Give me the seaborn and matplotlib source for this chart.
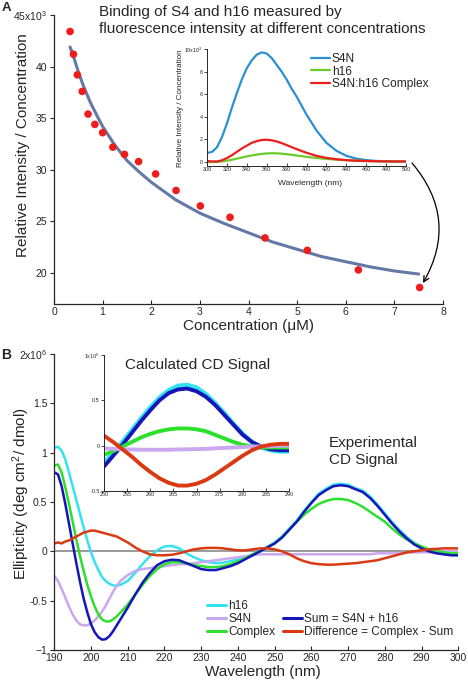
import matplotlib
matplotlib.use('Agg')
import matplotlib.pyplot as plt
import seaborn as sns
from matplotlib.lines import Line2D

# ---- panel A: binding titration (intensity / concentration vs concentration)
conc_um = [0.33, 0.40, 0.48, 0.58, 0.70, 0.84, 1.00, 1.21, 1.45, 1.74, 2.09,
           2.51, 3.01, 3.62, 4.34, 5.21, 6.26, 7.52]
ratio_k = [43.4, 41.2, 39.2, 37.6, 35.4, 34.4, 33.6, 32.2, 31.5, 30.8, 29.6,
           28.0, 26.5, 25.4, 23.4, 22.2, 20.3, 18.6]
fit_conc = [0.33, 0.4, 0.5, 0.6, 0.75, 0.9, 1.0, 1.25, 1.5, 1.75, 2.0, 2.5,
            3.0, 3.5, 4.0, 4.5, 5.0, 5.5, 6.0, 6.5, 7.0, 7.5]
fit_ratio = [41.9, 41.0, 39.5, 38.2, 36.5, 35.1, 34.2, 32.4, 30.9, 29.8, 28.8,
             27.1, 25.8, 24.8, 23.9, 23.0, 22.3, 21.6, 21.1, 20.6, 20.2, 19.9]

# ---- inset A: fluorescence spectra
spec_wl = [300, 305, 310, 315, 320, 325, 330, 335, 340, 345, 350, 355, 360,
           365, 370, 375, 380, 385, 390, 395, 400, 410, 420, 430, 440, 450,
           460, 470, 480, 490, 500]
spec_s4n = [0.8, 0.9, 1.3, 2.2, 3.4, 4.8, 6.1, 7.3, 8.3, 9.0, 9.5, 9.7, 9.6,
            9.2, 8.6, 8.0, 7.3, 6.5, 5.8, 5.0, 4.2, 2.8, 1.7, 1.0, 0.55, 0.3,
            0.17, 0.1, 0.07, 0.05, 0.05]
spec_h16 = [0.0, 0.0, 0.02, 0.06, 0.12, 0.2, 0.3, 0.4, 0.5, 0.58, 0.66, 0.72,
            0.76, 0.78, 0.77, 0.74, 0.69, 0.64, 0.58, 0.52, 0.46, 0.36, 0.28,
            0.21, 0.16, 0.12, 0.09, 0.07, 0.06, 0.05, 0.05]
spec_complex = [0.1, 0.05, 0.05, 0.15, 0.35, 0.6, 0.9, 1.2, 1.45, 1.7, 1.85,
                1.95, 1.97, 1.92, 1.82, 1.68, 1.5, 1.32, 1.15, 0.98, 0.82,
                0.55, 0.37, 0.25, 0.17, 0.12, 0.09, 0.07, 0.06, 0.05, 0.05]

# ---- panel B: experimental CD spectra (x10^6)
cd_wl = [190, 191, 192, 193, 194, 195, 196, 197, 198, 199, 200, 201, 202, 203,
         204, 205, 206, 207, 208, 210, 212, 214, 216, 218, 220, 222, 224, 226,
         228, 230, 232, 234, 236, 238, 240, 242, 244, 246, 248, 250, 252, 254,
         256, 258, 260, 262, 264, 266, 268, 270, 272, 274, 276, 278, 280, 282,
         284, 286, 288, 290, 292, 294, 296, 298, 300]
cd_h16 = [1.05, 1.06, 1.02, 0.93, 0.80, 0.66, 0.52, 0.38, 0.24, 0.11, -0.01,
          -0.11, -0.19, -0.26, -0.30, -0.33, -0.345, -0.35, -0.34, -0.30,
          -0.22, -0.13, -0.05, 0.01, 0.05, 0.055, 0.03, -0.02, -0.06, -0.09,
          -0.11, -0.12, -0.115, -0.10, -0.08, -0.06, -0.03, 0.0, 0.045, 0.09,
          0.15, 0.23, 0.31, 0.41, 0.50, 0.585, 0.635, 0.675, 0.685, 0.675,
          0.64, 0.615, 0.555, 0.475, 0.385, 0.295, 0.215, 0.145, 0.085, 0.04,
          0.01, -0.01, -0.025, -0.035, -0.04]
cd_s4n = [-0.25, -0.30, -0.38, -0.47, -0.56, -0.64, -0.70, -0.74, -0.75, -0.75,
          -0.73, -0.70, -0.66, -0.61, -0.55, -0.48, -0.41, -0.35, -0.30, -0.24,
          -0.20, -0.18, -0.17, -0.16, -0.15, -0.14, -0.13, -0.13, -0.12, -0.11,
          -0.10, -0.09, -0.08, -0.07, -0.06, -0.05, -0.04, -0.03, -0.03, -0.03,
          -0.03, -0.03, -0.03, -0.03, -0.03, -0.03, -0.03, -0.03, -0.03, -0.03,
          -0.03, -0.03, -0.03, -0.02, -0.02, -0.02, -0.02, -0.015, -0.01,
          -0.01, -0.01, -0.005, 0.0, 0.0, 0.0]
cd_complex = [0.87, 0.88, 0.80, 0.65, 0.48, 0.30, 0.12, -0.05, -0.20, -0.34,
              -0.46, -0.56, -0.64, -0.69, -0.71, -0.71, -0.69, -0.66, -0.62,
              -0.54, -0.44, -0.34, -0.25, -0.18, -0.13, -0.11, -0.11, -0.12,
              -0.14, -0.15, -0.16, -0.16, -0.15, -0.13, -0.10, -0.07, -0.03,
              0.0, 0.04, 0.08, 0.14, 0.22, 0.30, 0.37, 0.43, 0.48, 0.51, 0.53,
              0.53, 0.52, 0.49, 0.45, 0.40, 0.35, 0.30, 0.23, 0.17, 0.12, 0.08,
              0.05, 0.02, 0.0, -0.01, -0.02, -0.02]
cd_sum = [0.80, 0.78, 0.66, 0.48, 0.28, 0.08, -0.12, -0.31, -0.48, -0.62,
          -0.74, -0.82, -0.87, -0.895, -0.89, -0.86, -0.81, -0.75, -0.69,
          -0.57, -0.44, -0.32, -0.22, -0.14, -0.10, -0.085, -0.09, -0.12,
          -0.15, -0.18, -0.19, -0.19, -0.17, -0.15, -0.12, -0.08, -0.04, 0.0,
          0.04, 0.08, 0.14, 0.22, 0.30, 0.40, 0.49, 0.57, 0.62, 0.66, 0.67,
          0.66, 0.63, 0.60, 0.54, 0.46, 0.37, 0.28, 0.20, 0.13, 0.07, 0.03,
          0.0, -0.02, -0.03, -0.04, -0.04]
cd_diff = [0.08, 0.09, 0.08, 0.10, 0.11, 0.13, 0.15, 0.17, 0.19, 0.20, 0.21,
           0.21, 0.20, 0.19, 0.18, 0.17, 0.16, 0.15, 0.13, 0.09, 0.04, 0.0,
           -0.03, -0.04, -0.04, -0.035, -0.02, 0.0, 0.02, 0.03, 0.035, 0.035,
           0.03, 0.02, 0.01, 0.01, 0.02, 0.03, 0.03, 0.02, 0.0, -0.03, -0.07,
           -0.10, -0.12, -0.13, -0.135, -0.135, -0.13, -0.125, -0.12, -0.11,
           -0.10, -0.09, -0.07, -0.05, -0.03, -0.01, 0.0, 0.01, 0.02, 0.025,
           0.03, 0.03, 0.03]

# ---- inset B: calculated CD signal
calc_wl = [250, 252, 254, 256, 258, 260, 262, 264, 266, 268, 270, 272, 274,
           276, 278, 280, 282, 284, 286, 288, 290]
calc_h16 = [-0.19, -0.08, 0.04, 0.17, 0.30, 0.42, 0.53, 0.61, 0.66, 0.67, 0.64,
            0.57, 0.47, 0.36, 0.24, 0.13, 0.04, -0.02, -0.05, -0.065, -0.065]
calc_sum = [-0.23, -0.11, 0.01, 0.14, 0.27, 0.39, 0.50, 0.58, 0.62, 0.63, 0.60,
            0.54, 0.45, 0.34, 0.23, 0.12, 0.04, -0.01, -0.04, -0.05, -0.05]
calc_complex = [-0.10, -0.06, -0.01, 0.04, 0.09, 0.13, 0.16, 0.18, 0.19, 0.19,
                0.18, 0.16, 0.12, 0.08, 0.04, 0.01, -0.01, -0.02, -0.02,
                -0.02, -0.02]
calc_s4n = [-0.03, -0.035, -0.04, -0.042, -0.045, -0.045, -0.045, -0.045,
            -0.042, -0.04, -0.038, -0.035, -0.03, -0.025, -0.02, -0.015,
            -0.01, -0.008, -0.005, -0.002, 0.0]
calc_diff = [0.11, 0.04, -0.04, -0.12, -0.21, -0.29, -0.36, -0.41, -0.44,
             -0.44, -0.42, -0.38, -0.32, -0.25, -0.18, -0.11, -0.05, -0.01,
             0.01, 0.02, 0.02]

C_S4N_A = '#2b8fd1'
C_H16_A = '#6acc2a'
C_CPX_A = '#ee1d1d'
C_CYAN = '#33e3f0'
C_LAV = '#c9a8f0'
C_GREEN = '#2ee02e'
C_BLUE = '#1616b8'
C_RED = '#d93a12'

sns.set_style('ticks')
plt.rcParams['font.family'] = ['Liberation Sans', 'DejaVu Sans']
plt.rcParams['mathtext.default'] = 'regular'
plt.rcParams['axes.linewidth'] = 0.9

W, H = 468, 682
fig = plt.figure(figsize=(W / 100, H / 100), dpi=100)


def box(left, top, right, bottom):
    return [left / W, 1 - bottom / H, (right - left) / W, (bottom - top) / H]


def fig_xy(x, y):
    return (x / W, 1 - y / H)


# ================= panel A =================
ax_a = fig.add_axes(box(54, 15, 443, 304))
sns.lineplot(x=fit_conc, y=fit_ratio, ax=ax_a, color='#6479a6', lw=2.2)
sns.scatterplot(x=conc_um, y=ratio_k, ax=ax_a, color='#ee1c1c', s=30,
                edgecolor='none', zorder=3)
ax_a.set_xlim(0, 8)
ax_a.set_ylim(17, 45)
ax_a.set_xticks(range(0, 9))
ax_a.set_yticks([20, 25, 30, 35, 40, 45])
ax_a.set_yticklabels(['20', '25', '30', '35', '40', '45x10$^3$'])
ax_a.tick_params(axis='both', labelsize=7.5, length=3, width=0.8, pad=2)
ax_a.tick_params(axis='x', direction='in')
ax_a.set_ylabel('Relative Intensity / Concentration', fontsize=11)
ax_a.set_xlabel('Concentration (μM)', fontsize=11)
ax_a.yaxis.set_label_coords(-0.062, 0.55)
ax_a.xaxis.set_label_coords(0.5, -0.052)
sns.despine(ax=ax_a)

fig.text(*fig_xy(99, 5), 'Binding of S4 and h16 measured by\n'
         'fluorescence intensity at different concentrations',
         ha='left', va='top', fontsize=11, linespacing=1.25)

# inset A
ax_ai = fig.add_axes(box(207, 49, 406, 166))
ax_ai.set_facecolor('none')
sns.lineplot(x=spec_wl, y=spec_s4n, ax=ax_ai, color=C_S4N_A, lw=1.6, label='S4N')
sns.lineplot(x=spec_wl, y=spec_h16, ax=ax_ai, color=C_H16_A, lw=1.6, label='h16')
sns.lineplot(x=spec_wl, y=spec_complex, ax=ax_ai, color=C_CPX_A, lw=1.6,
             label='S4N:h16 Complex')
ax_ai.set_xlim(300, 500)
ax_ai.set_ylim(-0.35, 10)
ax_ai.set_xticks(range(300, 501, 20))
ax_ai.set_yticks([0, 2, 4, 6, 8, 10])
ax_ai.set_yticklabels(['0', '2', '4', '6', '8', '10x10$^3$'])
ax_ai.tick_params(axis='both', labelsize=3.9, length=2, width=0.6, pad=1)
ax_ai.tick_params(axis='x', direction='in')
ax_ai.set_ylabel('Relative Intensity / Concentration', fontsize=5.8)
ax_ai.set_xlabel('Wavelength (nm)', fontsize=6)
ax_ai.yaxis.set_label_coords(-0.115, 0.49)
ax_ai.xaxis.set_label_coords(0.516, -0.12)
for s in ax_ai.spines.values():
    s.set_linewidth(0.7)
sns.despine(ax=ax_ai)
ax_ai.legend(loc='upper left', bbox_to_anchor=fig_xy(311, 53),
             bbox_transform=fig.transFigure, frameon=False, fontsize=8.6,
             handlelength=1.6, handletextpad=0.15, labelspacing=0.05,
             borderpad=0, borderaxespad=0)

ax_a.annotate('', xy=fig_xy(423, 283), xytext=fig_xy(412, 163),
              xycoords='figure fraction', textcoords='figure fraction',
              arrowprops=dict(arrowstyle='->', lw=0.9, color='black',
                              connectionstyle='arc3,rad=-0.35',
                              shrinkA=0, shrinkB=0))

# ================= panel B =================
ax_b = fig.add_axes(box(54.3, 354, 458.3, 650))
ax_b.axhline(0, color='#8a8a8a', lw=1.2, zorder=1)
sns.lineplot(x=cd_wl, y=cd_h16, ax=ax_b, color=C_CYAN, lw=1.8)
sns.lineplot(x=cd_wl, y=cd_s4n, ax=ax_b, color=C_LAV, lw=1.8)
sns.lineplot(x=cd_wl, y=cd_complex, ax=ax_b, color=C_GREEN, lw=1.8)
sns.lineplot(x=cd_wl, y=cd_sum, ax=ax_b, color=C_BLUE, lw=1.8)
sns.lineplot(x=cd_wl, y=cd_diff, ax=ax_b, color=C_RED, lw=1.8)
ax_b.set_xlim(190, 300)
ax_b.set_ylim(-1, 2)
ax_b.set_xticks(range(190, 301, 10))
ax_b.set_yticks([-1, -0.5, 0, 0.5, 1, 1.5, 2])
ax_b.set_yticklabels(['\u22121', '-0.5', '0', '0.5', '1', '1.5', '2x10$^6$'])
ax_b.tick_params(axis='both', labelsize=7.5, length=3, width=0.8, pad=2)
ax_b.tick_params(axis='x', direction='in')
ax_b.set_ylabel('Ellipticity (deg cm$^2$/ dmol)', fontsize=11)
ax_b.set_xlabel('Wavelength (nm)', fontsize=11)
ax_b.yaxis.set_label_coords(-0.055, 0.53)
ax_b.xaxis.set_label_coords(0.517, -0.052)
sns.despine(ax=ax_b)

handles = [Line2D([], [], color=C_CYAN, lw=2.2),
           Line2D([], [], color=C_LAV, lw=2.2),
           Line2D([], [], color=C_GREEN, lw=2.2),
           Line2D([], [], color='none'),
           Line2D([], [], color=C_BLUE, lw=2.2),
           Line2D([], [], color=C_RED, lw=2.2)]
labels = ['h16', 'S4N', 'Complex', '', 'Sum = S4N + h16',
          'Difference = Complex - Sum']
ax_b.legend(handles, labels, ncol=2, loc='upper left',
            bbox_to_anchor=fig_xy(207, 600), bbox_transform=fig.transFigure,
            frameon=False, fontsize=8.6, handlelength=1.6, handletextpad=0.2,
            labelspacing=0.08, columnspacing=0.6, borderpad=0, borderaxespad=0)

# inset B
ax_bi = fig.add_axes(box(104, 355, 289, 491))
ax_bi.set_facecolor('none')
sns.lineplot(x=calc_wl, y=calc_h16, ax=ax_bi, color=C_CYAN, lw=3.2)
sns.lineplot(x=calc_wl, y=calc_sum, ax=ax_bi, color=C_BLUE, lw=2.8)
sns.lineplot(x=calc_wl, y=calc_complex, ax=ax_bi, color=C_GREEN, lw=2.8)
sns.lineplot(x=calc_wl, y=calc_s4n, ax=ax_bi, color=C_LAV, lw=2.8)
sns.lineplot(x=calc_wl, y=calc_diff, ax=ax_bi, color=C_RED, lw=2.8)
ax_bi.set_xlim(250, 290)
ax_bi.set_ylim(-0.5, 1.0)
ax_bi.set_xticks(range(250, 291, 5))
ax_bi.set_yticks([-0.5, 0, 0.5, 1])
ax_bi.set_yticklabels(['-0.5', '0', '0.5', '1x10$^6$'])
ax_bi.tick_params(axis='both', labelsize=3.9, length=2, width=0.6, pad=1)
ax_bi.tick_params(axis='x', direction='in')
for s in ax_bi.spines.values():
    s.set_linewidth(0.7)
sns.despine(ax=ax_bi)

fig.text(*fig_xy(125, 369), 'Calculated CD Signal', ha='left',
         va='baseline', fontsize=11)
fig.text(*fig_xy(329, 436), 'Experimental\nCD Signal', ha='left', va='top',
         fontsize=11, linespacing=1.25)

fig.text(*fig_xy(2, 2), 'A', ha='left', va='top', fontsize=9.5,
         fontweight='bold')
fig.text(*fig_xy(1, 348), 'B', ha='left', va='top', fontsize=10,
         fontweight='bold')

fig.savefig('out.png', dpi=100)
